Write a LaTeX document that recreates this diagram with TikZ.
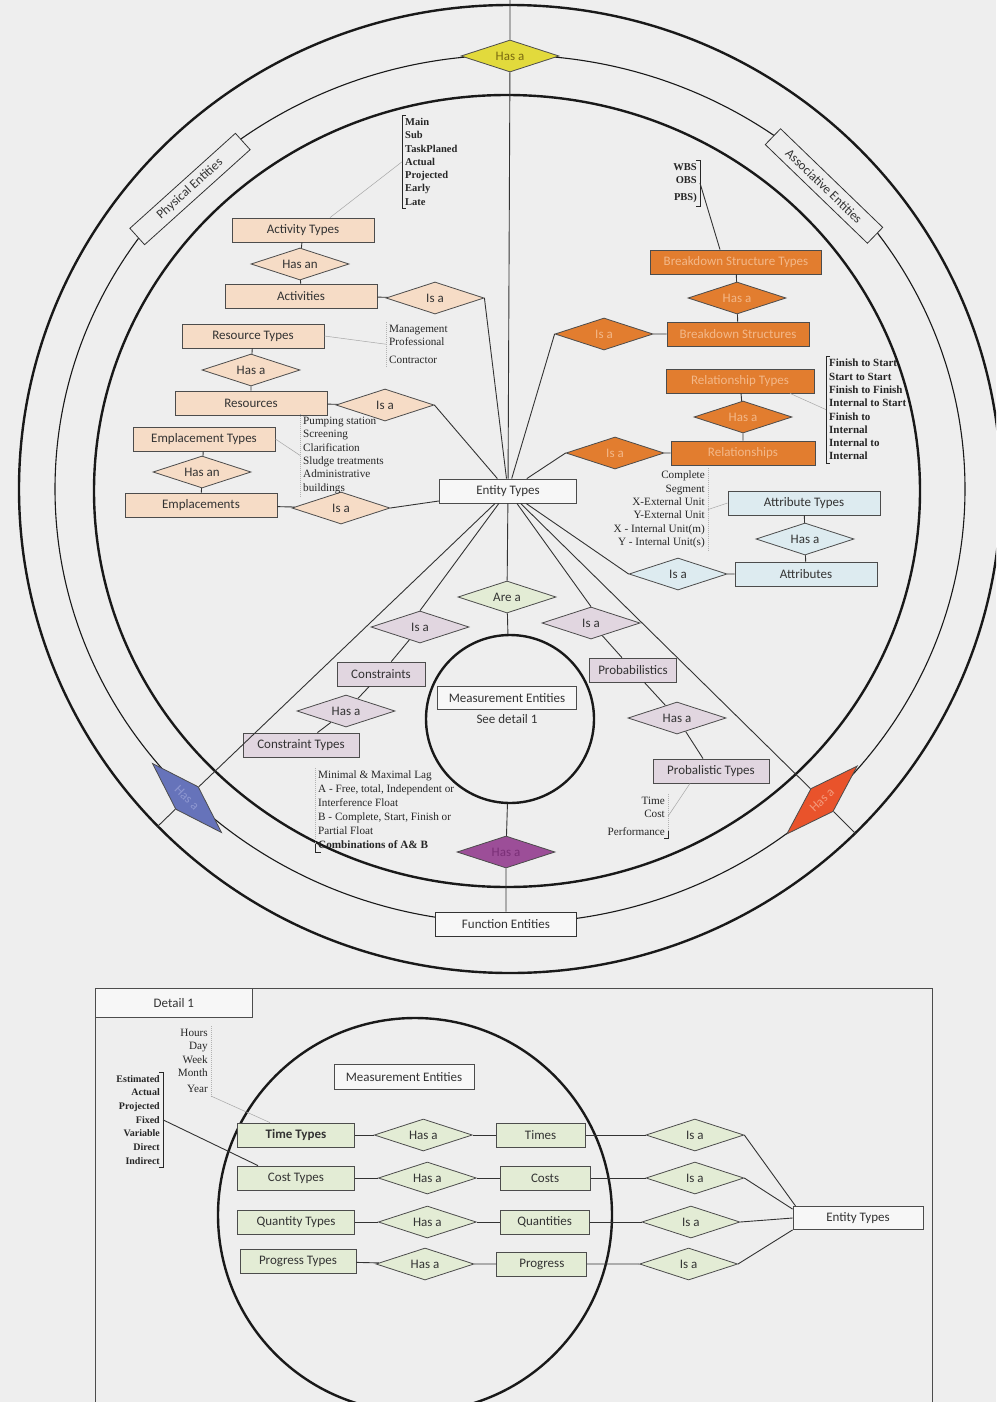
\documentclass[tikz,border=0pt]{standalone}
\usepackage{fontspec}
\setmainfont{Carlito}
\newfontfamily\notefont{Liberation Serif}
\usepackage{tikz,xcolor}
\usetikzlibrary{positioning,shapes.geometric}

\definecolor{bgGray}{HTML}{EEEEEE}
\definecolor{peach}{HTML}{F6DCC6}
\definecolor{orangeFill}{HTML}{E27D2F}
\definecolor{orangeText}{HTML}{F3B889}
\definecolor{paleBlue}{HTML}{DDEBF0}
\definecolor{lilac}{HTML}{E1D6E0}
\definecolor{paleGreen}{HTML}{E3ECD5}
\definecolor{hasYellow}{HTML}{E2DA3C}
\definecolor{yellowText}{HTML}{7A6A10}
\definecolor{hasBlue}{HTML}{6673BA}
\definecolor{blueText}{HTML}{8E97D0}
\definecolor{hasRed}{HTML}{E9532B}
\definecolor{redText}{HTML}{F39A7C}
\definecolor{hasPurple}{HTML}{9C4E98}
\definecolor{purpleText}{HTML}{7A2F77}

\begin{document}
\begin{tikzpicture}[
        x=1pt, y=-1pt,
        font=\fontsize{13}{15}\selectfont,
        box/.style={rectangle, draw=black!70, line width=0.8pt, minimum height=24pt, inner sep=2pt, text=black!80},
        rel/.style={diamond, aspect=3, draw=black!70, line width=0.8pt, minimum width=98pt, minimum height=32pt, inner sep=0pt, text=black!80},
        physbox/.style={box, fill=peach},
        physrel/.style={rel, fill=peach},
        assocbox/.style={box, fill=orangeFill, text=orangeText},
        assocrel/.style={rel, fill=orangeFill, text=orangeText},
        attrbox/.style={box, fill=paleBlue},
        attrrel/.style={rel, fill=paleBlue},
        funcbox/.style={box, fill=lilac},
        funcrel/.style={rel, fill=lilac},
        measbox/.style={box, fill=paleGreen},
        measrel/.style={rel, fill=paleGreen},
        plainbox/.style={box, fill=white!55!bgGray},
        ringbox/.style={rectangle, draw=black!80, fill=bgGray, line width=0.8pt, minimum width=142pt, minimum height=22pt, inner sep=1pt, text=black!80, font=\fontsize{13}{15}\selectfont},
        link/.style={draw=black!80, line width=0.9pt},
        faint/.style={draw=black!35, line width=0.5pt},
        bracket/.style={draw=black!85, line width=0.7pt},
        softbracket/.style={draw=black!30, line width=0.5pt, dash pattern=on 1pt off 1pt},
        note/.style={font=\notefont\fontsize{11.2}{13.3}\selectfont, inner sep=3pt, text=black!85},
        boldnote/.style={note, font=\notefont\bfseries\fontsize{10.5}{13.3}\selectfont},
        ring/.style={draw=black!90, line width=2.4pt},
        thinring/.style={draw=black!90, line width=1.1pt}
    ]
        \useasboundingbox (0,0) rectangle (996,1402);
        \clip (0,0) rectangle (996,1402);
        \fill[bgGray] (0,0) rectangle (996,1402);

        % Rings
        \draw[ring] (510,489) ellipse [x radius=491pt, y radius=484pt];
        \draw[thinring] (510,489) ellipse [x radius=455pt, y radius=434pt];
        \draw[ring] (507,491) ellipse [x radius=413pt, y radius=396pt];

        % Ring labels
        \node[ringbox, rotate=42] (physical) at (190,189) {Physical Entities};
        \node[ringbox, rotate=-44] (associative) at (824,186) {Associative Entities};
        \node[rel, fill=hasYellow, text=yellowText] (topHas) at (510,56) {Has a};
        \node[rel, fill=hasBlue, text=blueText, rotate=-45] (leftHas) at (187,798) {Has a};
        \node[rel, fill=hasRed, text=redText, rotate=44] (rightHas) at (822,800) {Has a};
        \node[ringbox, minimum width=141pt, minimum height=24pt, fill=white!55!bgGray] (funcEnt) at (506,924) {Function Entities};

        % Entity types
        \node[plainbox, minimum width=137pt] (entity) at (508,491) {Entity Types};

        % Physical entities
        \node[physbox, minimum width=142pt] (actTypes) at (303,230) {Activity Types};
        \node[physrel] (actHas) at (300,264) {Has an};
        \node[physbox, minimum width=152pt] (activities) at (301,296) {Activities};
        \node[physrel] (actIsa) at (435,298) {Is a};
        \node[physbox, minimum width=142pt] (resTypes) at (253,336) {Resource Types};
        \node[physrel] (resHas) at (251,370) {Has a};
        \node[physbox, minimum width=152pt] (resources) at (251,403) {Resources};
        \node[physrel] (resIsa) at (385,405) {Is a};
        \node[physbox, minimum width=142pt] (empTypes) at (204,439) {Emplacement Types};
        \node[physrel] (empHas) at (202,472) {Has an};
        \node[physbox, minimum width=152pt] (emplacements) at (201,505) {Emplacements};
        \node[physrel] (empIsa) at (341,508) {Is a};

        % Associative entities
        \node[assocbox, minimum width=171pt] (bsTypes) at (736,262) {Breakdown Structure Types};
        \node[assocrel] (bsHas) at (737,298) {Has a};
        \node[assocbox, minimum width=142pt] (bs) at (738,334) {Breakdown Structures};
        \node[assocrel] (bsIsa) at (604,334) {Is a};
        \node[assocbox, minimum width=148pt] (relTypes) at (740,381) {Relationship Types};
        \node[assocrel] (relHas) at (743,417) {Has a};
        \node[assocbox, minimum width=144pt] (rels) at (743,453) {Relationships};
        \node[assocrel] (relIsa) at (615,453) {Is a};
        \node[attrbox, minimum width=152pt] (attrTypes) at (804,503) {Attribute Types};
        \node[attrrel] (attrHas) at (805,539) {Has a};
        \node[attrbox, minimum width=142pt] (attrs) at (806,574) {Attributes};
        \node[attrrel] (attrIsa) at (678,574) {Is a};

        % Function entities
        \node[measrel] (areA) at (507,597) {Are a};
        \node[circle, draw=black!90, line width=2.4pt, minimum size=168pt, inner sep=0pt] (measCircle) at (510,719) {};
        \node[plainbox, minimum width=139pt, minimum height=23pt] (measEnt) at (507,698) {Measurement Entities};
        \node[text=black!80] (seeDetail) at (507,719) {See detail 1};
        \node[rel, fill=hasPurple, text=purpleText] (funcHas) at (506,852) {Has a};
        \node[funcrel] (conIsa) at (420,627) {Is a};
        \node[funcbox, minimum width=88pt] (constraints) at (381,674) {Constraints};
        \node[funcrel] (conHas) at (346,711) {Has a};
        \node[funcbox, minimum width=116pt] (conTypes) at (301,745) {Constraint Types};
        \node[funcrel] (probIsa) at (591,623) {Is a};
        \node[funcbox, minimum width=87pt] (probs) at (633,670) {Probabilistics};
        \node[funcrel] (probHas) at (677,718) {Has a};
        \node[funcbox, minimum width=116pt] (probTypes) at (711,771) {Probalistic Types};

        % Notes
        \node[boldnote, align=left, anchor=north west] (actNote) at (402,115) {Main\\Sub\\TaskPlaned\\Actual\\Projected\\Early\\Late};
        \node[note, align=left, anchor=north west] (mgmtNote) at (386,322) {Management\\Professional\\[4pt]Contractor};
        \node[note, align=left, anchor=north west] (pumpNote) at (300,414) {Pumping station\\Screening\\Clarification\\Sludge treatments\\Administrative\\buildings};
        \node[boldnote, align=right, anchor=north east] (wbsNote) at (700,160) {WBS\\OBS\\[4pt]PBS)};
        \node[boldnote, align=left, anchor=north west, font=\notefont\bfseries\fontsize{11}{13.3}\selectfont] (finishNote) at (826,356) {Finish to Start\\Start to Start\\Finish to Finish\\Internal to Start\\Finish to\\Internal\\Internal to\\Internal};
        \node[note, align=right, anchor=north east] (completeNote) at (708,468) {Complete\\Segment\\X-External Unit\\Y-External Unit\\X - Internal Unit(m)\\Y - Internal Unit(s)};
        \node[note, align=left, anchor=north west, font=\notefont\fontsize{11.2}{14}\selectfont] (constrNote) at (315,768) {Minimal \& Maximal Lag\\A - Free, total, Independent or\\Interference Float\\B - Complete, Start, Finish or\\Partial Float\\\textbf{Combinations of A\& B}};
        \node[note, align=right, anchor=north east] (timeNote) at (668,794) {Time\\Cost\\[4pt]Performance};

        % Connections
        \coordinate (topEnd) at (510,0);
        \coordinate (leftEnd) at (157,827);
        \coordinate (rightEnd) at (856,834);
        \draw[link] (topEnd) -- (topHas) -- (entity);
        \draw[link] (entity) -- (leftHas) -- (leftEnd);
        \draw[link] (entity) -- (rightHas) -- (rightEnd);

        \draw[link] (actTypes) -- (actHas) -- (activities) -- (actIsa);
        \draw[link] (actIsa.east) -- (entity);
        \draw[link] (resTypes) -- (resHas) -- (resources) -- (resIsa);
        \draw[link] (resIsa.east) -- (entity);
        \draw[link] (empTypes) -- (empHas) -- (emplacements) -- (empIsa);
        \draw[link] (empIsa.east) -- (entity);

        \draw[link] (bsTypes) -- (bsHas) -- (bs) -- (bsIsa);
        \draw[link] (bsIsa.west) -- (entity);
        \draw[link] (relTypes) -- (relHas) -- (rels) -- (relIsa);
        \draw[link] (relIsa.west) -- (entity);
        \draw[link] (attrTypes) -- (attrHas) -- (attrs) -- (attrIsa);
        \draw[link] (attrIsa.west) -- (entity);

        \draw[link] (entity) -- (areA) -- (measCircle);
        \draw[link] (measCircle) -- (funcHas) -- (funcEnt);
        \draw[link] (entity) -- (conIsa.north);
        \draw[link] (conIsa) -- (constraints) -- (conHas) -- (conTypes);
        \draw[link] (entity) -- (probIsa.north);
        \draw[link] (probIsa) -- (probs) -- (probHas) -- (probTypes);

        % Note brackets
        \draw[bracket] ([xshift=4pt]actNote.north west) -| (actNote.south west) -- ++(4,0);
        \draw[faint] ([xshift=27pt]actTypes.north) -- (actNote.west);
        \draw[softbracket] (mgmtNote.north west) -- (mgmtNote.south west);
        \draw[faint] (resTypes.east) -- (mgmtNote.west);
        \draw[softbracket] (pumpNote.north west) -- (pumpNote.south west);
        \draw[faint] (empTypes.east) -- (pumpNote.west);
        \draw[bracket] ([xshift=-4pt]wbsNote.north east) -| (wbsNote.south east) -- ++(-4,0);
        \draw[link] (wbsNote.east) -- ([xshift=-16pt]bsTypes.north);
        \draw[bracket] ([xshift=4pt]finishNote.north west) -| (finishNote.south west) -- ++(4,0);
        \draw[faint] ([xshift=50pt]relTypes.south) -- (finishNote.west);
        \draw[softbracket] (completeNote.north east) -- (completeNote.south east);
        \draw[faint] (completeNote.east) -- (attrTypes.west);
        \draw[softbracket] (constrNote.north west) -- (constrNote.south west);
        \draw[bracket] (constrNote.south west) -- ++(0,-8) (constrNote.south west) -- ++(6,0);
        \draw[softbracket] (timeNote.north east) -- (timeNote.south east);
        \draw[bracket] (timeNote.south east) -- ++(0,-8) (timeNote.south east) -- ++(-4,0);
        \draw[faint] ([xshift=-21pt]probTypes.south) -- (timeNote.east);

        % Detail 1
        \draw[draw=black!70, line width=0.8pt] (95,988) rectangle (932,1420);
        \node[plainbox, minimum width=157pt, minimum height=29pt, anchor=north west] (detailHead) at (95,988) {Detail 1};
        \node[circle, draw=black!90, line width=2.4pt, minimum size=394pt, inner sep=0pt] (detailCircle) at (415,1215) {};
        \node[plainbox, minimum width=140pt, minimum height=25pt] (detailMeas) at (404,1077) {Measurement Entities};
        \node[plainbox, minimum width=130pt, minimum height=23pt] (detailEntity) at (858,1218) {Entity Types};

        \node[measbox, minimum width=117pt] (timeTypes) at (296,1135) {\textbf{Time Types}};
        \node[measrel, right=19pt of timeTypes] (timeHas) {Has a};
        \node[measbox, minimum width=89pt, right=23pt of timeHas] (times) {Times};
        \node[measrel, right=60pt of times] (timeIsa) {Is a};

        \node[measbox, minimum width=117pt] (costTypes) at (296,1178) {Cost Types};
        \node[measrel, right=23pt of costTypes] (costHas) {Has a};
        \node[measbox, minimum width=90pt, right=23pt of costHas] (costs) {Costs};
        \node[measrel, right=55pt of costs] (costIsa) {Is a};

        \node[measbox, minimum width=117pt] (qtyTypes) at (296,1222) {Quantity Types};
        \node[measrel, right=23pt of qtyTypes] (qtyHas) {Has a};
        \node[measbox, minimum width=89pt, right=23pt of qtyHas] (qtys) {Quantities};
        \node[measrel, right=52pt of qtys] (qtyIsa) {Is a};

        \node[measbox, minimum width=116pt] (progTypes) at (298,1261) {Progress Types};
        \node[measrel] (progHas) at (425,1264) {Has a};
        \node[measbox, minimum width=90pt, right=22pt of progHas] (progress) {Progress};
        \node[measrel, right=52pt of progress] (progIsa) {Is a};

        \draw[link] (timeTypes) -- (timeHas) -- (times) -- (timeIsa);
        \draw[link] (costTypes) -- (costHas) -- (costs) -- (costIsa);
        \draw[link] (qtyTypes) -- (qtyHas) -- (qtys) -- (qtyIsa);
        \draw[link] (progTypes) -- (progHas) -- (progress) -- (progIsa);
        \draw[link] (timeIsa.east) -- ([xshift=3pt]detailEntity.north west);
        \draw[link] (costIsa.east) -- ([yshift=-3pt]detailEntity.north west);
        \draw[link] (qtyIsa.east) -- (detailEntity.west);
        \draw[link] (progIsa.east) -- (detailEntity.south west);

        \node[note, align=right, anchor=north east] (hoursNote) at (211,1026) {Hours\\Day\\Week\\Month\\[3pt]Year};
        \draw[softbracket] (hoursNote.north east) -- (hoursNote.south east);
        \draw[faint] (hoursNote.south east) -- ([xshift=-26pt]timeTypes.north);
        \node[boldnote, align=right, anchor=north east, font=\notefont\bfseries\fontsize{10}{13.7}\selectfont] (estNote) at (163,1072) {Estimated\\Actual\\Projected\\Fixed\\Variable\\Direct\\Indirect};
        \draw[bracket] ([xshift=-4pt]estNote.north east) -| (estNote.south east) -- ++(-4,0);
        \draw[link] (estNote.east) -- ([xshift=-38pt]costTypes.north);
    \end{tikzpicture}
\end{document}
